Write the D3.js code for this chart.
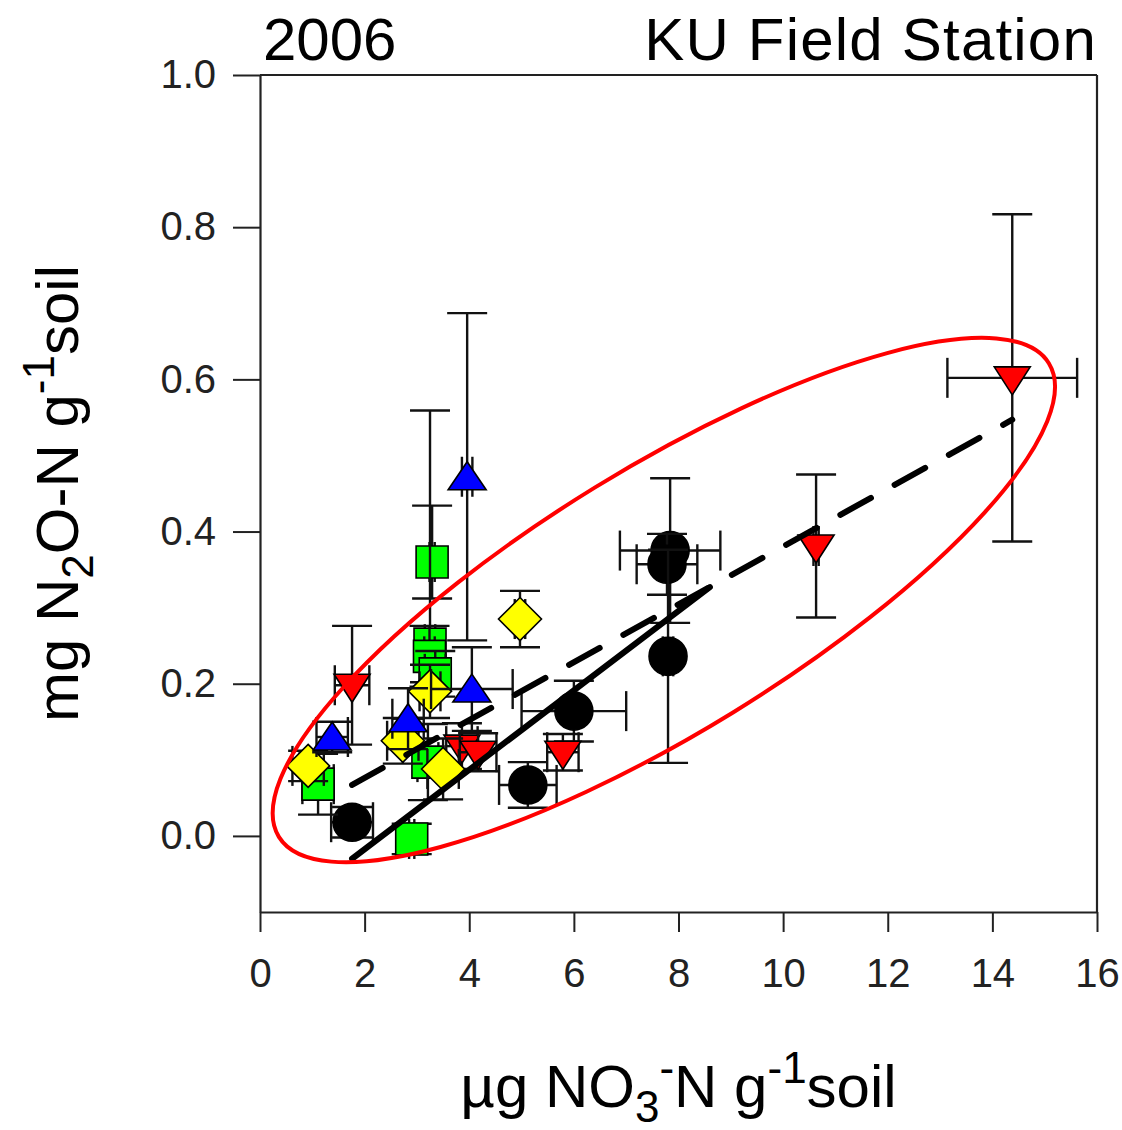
<!DOCTYPE html>
<html><head><meta charset="utf-8">
<script src="https://cdn.jsdelivr.net/npm/d3@7"></script>
<style>body{margin:0;background:#fff}svg{display:block}</style>
</head><body>
<svg id="chart" width="1122" height="1130"></svg>
<script>
// ---- data ----
const xTicks = [0, 2, 4, 6, 8, 10, 12, 14, 16];
const yTicks = [0.0, 0.2, 0.4, 0.6, 0.8, 1.0];

// black circles
const circleX    = [1.76, 5.12, 6.00, 7.84, 7.78, 7.80];
const circleY    = [0.018, 0.067, 0.164, 0.375, 0.357, 0.236];
const circleXErr = [0.40, 0.55, 1.00, 0.96, 0.58, 0.10];
const circleYLo  = [0.02, 0.03, 0.04, 0.095, 0.04, 0.14];
const circleYHi  = [0.02, 0.03, 0.04, 0.095, 0.04, 0.14];

// red down-triangles
const redX    = [1.76, 3.86, 4.17, 5.79, 10.63, 14.38];
const redY    = [0.198, 0.118, 0.110, 0.110, 0.381, 0.602];
const redXErr = [0.33, 0.30, 0.35, 0.30, 0.05, 1.24];
const redYLo  = [0.078, 0.03, 0.025, 0.024, 0.094, 0.215];
const redYHi  = [0.078, 0.03, 0.025, 0.024, 0.094, 0.215];

// green squares
const greenX    = [3.29, 3.25, 3.24, 3.35, 3.21, 1.11, 2.90];
const greenY    = [0.360, 0.252, 0.236, 0.213, 0.097, 0.068, -0.004];
const greenXErr = [0.05, 0.10, 0.10, 0.20, 0.20, 0.30, 0.05];
const greenYLo  = [0.048, 0.05, 0.04, 0.03, 0.05, 0.04, 0.02];
const greenYHi  = [0.074, 0.307, 0.04, 0.03, 0.05, 0.04, 0.02];

// yellow diamonds
const yellowX    = [0.92, 2.73, 3.25, 3.50, 4.97];
const yellowY    = [0.092, 0.125, 0.190, 0.088, 0.285];
const yellowXErr = [0.30, 0.30, 0.20, 0.30, 0.10];
const yellowYLo  = [0.02, 0.03, 0.035, 0.04, 0.037];
const yellowYHi  = [0.02, 0.03, 0.035, 0.04, 0.037];

// blue up-triangles
const blueX    = [1.38, 2.83, 4.05, 3.96];
const blueY    = [0.130, 0.154, 0.193, 0.472];
const blueXErr = [0.30, 0.30, 0.78, 0.10];
const blueYLo  = [0.02, 0.04, 0.055, 0.215];
const blueYHi  = [0.02, 0.04, 0.055, 0.215];

// regression lines (endpoints in data units)
const solidFitX  = [1.76, 8.60];
const solidFitY  = [-0.030, 0.327];
const dashedFitX = [1.76, 14.38];
const dashedFitY = [0.067, 0.547];

// highlight ellipse centre (data units)
const ellipseCenter = [7.72, 0.310];

// ---- drawing ----
const W = 1122, H = 1130;
const L = 260, R = 1097, T = 75, B = 912;
const font = "'Liberation Sans', Arial, Helvetica, sans-serif";
const svg = d3.select("#chart");
svg.append("rect").attr("width", W).attr("height", H).attr("fill", "#fff");

const x = d3.scaleLinear().domain([0, 16]).range([L, R]);
const y = d3.scaleLinear().domain([-0.1, 1.0]).range([B, T]);

// axes
const xAxis = svg.append("g").attr("transform", `translate(0,${B})`)
  .call(d3.axisBottom(x).tickValues(xTicks).tickSize(20).tickSizeOuter(0).tickPadding(27).tickFormat(d3.format("d")));
const yAxis = svg.append("g").attr("transform", `translate(${L},0)`)
  .call(d3.axisLeft(y).tickValues(yTicks).tickSize(27).tickSizeOuter(0).tickPadding(17).tickFormat(d3.format(".1f")));
[xAxis, yAxis].forEach(g => {
  g.select(".domain").attr("stroke", "#222").attr("stroke-width", 2.2);
  g.selectAll(".tick line").attr("stroke", "#222").attr("stroke-width", 2);
  g.selectAll(".tick text").attr("fill", "#222").style("font-family", font).style("font-size", "40px");
});
// frame top & right
svg.append("line").attr("x1", L).attr("x2", R).attr("y1", T).attr("y2", T).attr("stroke", "#222").attr("stroke-width", 2.2);
svg.append("line").attr("x1", R).attr("x2", R).attr("y1", T).attr("y2", B).attr("stroke", "#222").attr("stroke-width", 2.2);

// titles
svg.append("text").attr("x", 263).attr("y", 60).attr("fill", "#000")
  .style("font-family", font).style("font-size", "60px").text("2006");
svg.append("text").attr("x", R).attr("y", 60).attr("text-anchor", "end").attr("fill", "#000")
  .style("font-family", font).style("font-size", "60px").style("letter-spacing", "1.2px").text("KU Field Station");

// x axis title
const xt = svg.append("text").attr("x", (L + R) / 2).attr("y", 1107).attr("text-anchor", "middle")
  .attr("fill", "#000").style("font-family", font).style("font-size", "60px");
xt.append("tspan").text("\u00b5g NO");
xt.append("tspan").attr("dy", 15).style("font-size", "44px").text("3");
xt.append("tspan").attr("dy", -39).style("font-size", "44px").text("-");
xt.append("tspan").attr("dy", 24).text("N g");
xt.append("tspan").attr("dy", -24).style("font-size", "44px").text("-1");
xt.append("tspan").attr("dy", 24).text("soil");

// y axis title
const yt = svg.append("text").attr("transform", `translate(78,${(T + B) / 2}) rotate(-90)`)
  .attr("text-anchor", "middle").attr("fill", "#000").style("font-family", font).style("font-size", "60px");
yt.append("tspan").text("mg N");
yt.append("tspan").attr("dy", 15).style("font-size", "44px").text("2");
yt.append("tspan").attr("dy", -15).text("O-N g");
yt.append("tspan").attr("dy", -24).style("font-size", "44px").text("-1");
yt.append("tspan").attr("dy", 24).text("soil");

// marker paths
function shapePath(shape, cx, cy) {
  const p = d3.path();
  if (shape === "circle") { p.moveTo(cx + 19, cy); p.arc(cx, cy, 19, 0, 2 * Math.PI); }
  else if (shape === "square") { p.rect(cx - 16, cy - 16, 32, 32); }
  else if (shape === "triDown") { p.moveTo(cx - 18, cy - 11); p.lineTo(cx + 18, cy - 11); p.lineTo(cx, cy + 17); p.closePath(); }
  else if (shape === "triUp") { p.moveTo(cx - 19, cy + 13); p.lineTo(cx + 19, cy + 13); p.lineTo(cx, cy - 15); p.closePath(); }
  else if (shape === "diamond") { p.moveTo(cx, cy - 21.5); p.lineTo(cx + 21.5, cy); p.lineTo(cx, cy + 21.5); p.lineTo(cx - 21.5, cy); p.closePath(); }
  return p.toString();
}

const series = [
  { shape: "circle",  fill: "#000000", xs: circleX, ys: circleY, xe: circleXErr, lo: circleYLo, hi: circleYHi },
  { shape: "triDown", fill: "#ff0000", xs: redX,    ys: redY,    xe: redXErr,    lo: redYLo,    hi: redYHi },
  { shape: "square",  fill: "#00ff00", xs: greenX,  ys: greenY,  xe: greenXErr,  lo: greenYLo,  hi: greenYHi },
  { shape: "diamond", fill: "#ffff00", xs: yellowX, ys: yellowY, xe: yellowXErr, lo: yellowYLo, hi: yellowYHi },
  { shape: "triUp",   fill: "#0000ff", xs: blueX,   ys: blueY,   xe: blueXErr,   lo: blueYLo,   hi: blueYHi }
];

const cap = 20;
const plot = svg.append("g");
series.forEach(s => {
  const g = plot.append("g");
  s.xs.forEach((xv, i) => {
    const px = x(xv), py = y(s.ys[i]);
    const y1 = y(s.ys[i] + s.hi[i]), y2 = y(s.ys[i] - s.lo[i]);
    const x1 = x(xv - s.xe[i]), x2 = x(xv + s.xe[i]);
    const eb = g.append("g").attr("stroke", "#111").attr("stroke-width", 2.4).attr("fill", "none");
    eb.append("line").attr("x1", px).attr("x2", px).attr("y1", y1).attr("y2", y2);
    eb.append("line").attr("x1", px - cap).attr("x2", px + cap).attr("y1", y1).attr("y2", y1);
    eb.append("line").attr("x1", px - cap).attr("x2", px + cap).attr("y1", y2).attr("y2", y2);
    eb.append("line").attr("x1", x1).attr("x2", x2).attr("y1", py).attr("y2", py);
    eb.append("line").attr("x1", x1).attr("x2", x1).attr("y1", py - cap).attr("y2", py + cap);
    eb.append("line").attr("x1", x2).attr("x2", x2).attr("y1", py - cap).attr("y2", py + cap);
    g.append("path").attr("d", shapePath(s.shape, px, py))
      .attr("fill", s.fill).attr("stroke", "#000").attr("stroke-width", 1.6);
  });
});

// regression lines
const line = d3.line().x(d => x(d[0])).y(d => y(d[1]));
svg.append("path").attr("d", line(solidFitX.map((v, i) => [v, solidFitY[i]])))
  .attr("stroke", "#000").attr("stroke-width", 6).attr("fill", "none").attr("stroke-linecap", "round");
svg.append("path").attr("d", line(dashedFitX.map((v, i) => [v, dashedFitY[i]])))
  .attr("stroke", "#000").attr("stroke-width", 6).attr("fill", "none")
  .attr("stroke-linecap", "round").attr("stroke-dasharray", "35 27");

// red ellipse
svg.append("ellipse")
  .attr("transform", `translate(${x(ellipseCenter[0])},${y(ellipseCenter[1])}) rotate(-31.6)`)
  .attr("rx", 452).attr("ry", 132)
  .attr("fill", "none").attr("stroke", "#ff0000").attr("stroke-width", 4);
</script>
</body></html>
